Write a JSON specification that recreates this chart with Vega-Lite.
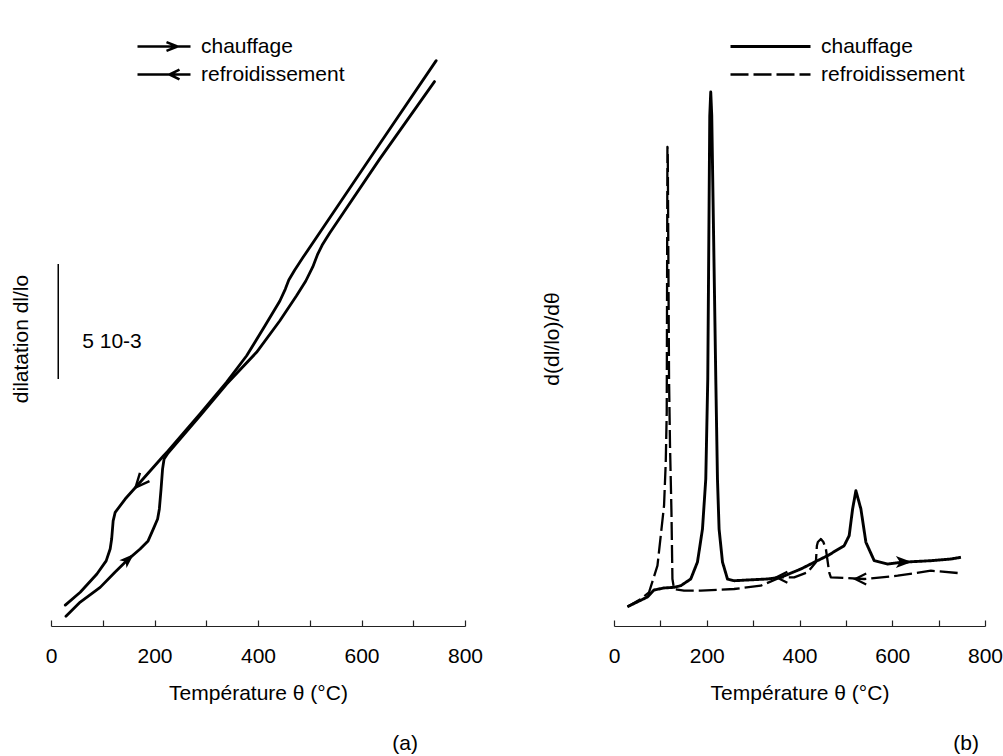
{
  "$schema": "https://vega.github.io/schema/vega-lite/v6.json",
  "background": "white",
  "padding": {"left": 10, "top": 36, "right": 0, "bottom": 0},
  "config": {
    "view": {"stroke": null},
    "font": "Liberation Sans",
    "axisX": {
      "domainColor": "#222", "domainWidth": 1.2, "tickColor": "#222", "tickWidth": 1.2, "tickSize": -6,
      "labelFontSize": 21, "labelColor": "black", "labelPadding": 25, "labelFlush": false, "labelOverlap": false,
      "titleFontSize": 21, "titleFontWeight": "normal", "titleColor": "black", "titlePadding": 16, "grid": false
    },
    "axisY": {
      "labels": false, "ticks": false, "domain": false, "grid": false,
      "titleFontSize": 21, "titleFontWeight": "normal", "titleColor": "black"
    },
    "legend": {"labelFontSize": 21, "labelColor": "black", "labelFont": "Liberation Sans", "title": null}
  },
  "datasets": {
    "dilat": [
      {"cycle": "chauffage", "i": 1, "T": 28.9, "dl": 0.42},
      {"cycle": "chauffage", "i": 2, "T": 56.5, "dl": 1.04},
      {"cycle": "chauffage", "i": 3, "T": 95, "dl": 1.68},
      {"cycle": "chauffage", "i": 4, "T": 124, "dl": 2.35},
      {"cycle": "chauffage", "i": 5, "T": 149.6, "dl": 2.91},
      {"cycle": "chauffage", "i": 6, "T": 172.2, "dl": 3.35},
      {"cycle": "chauffage", "i": 7, "T": 187.6, "dl": 3.7},
      {"cycle": "chauffage", "i": 8, "T": 197.8, "dl": 4.22},
      {"cycle": "chauffage", "i": 9, "T": 206, "dl": 4.65},
      {"cycle": "chauffage", "i": 10, "T": 209.4, "dl": 5.09},
      {"cycle": "chauffage", "i": 11, "T": 212.7, "dl": 5.96},
      {"cycle": "chauffage", "i": 12, "T": 215.6, "dl": 6.83},
      {"cycle": "chauffage", "i": 13, "T": 218.5, "dl": 7.26},
      {"cycle": "chauffage", "i": 14, "T": 226.2, "dl": 7.52},
      {"cycle": "chauffage", "i": 15, "T": 287.9, "dl": 9.14},
      {"cycle": "chauffage", "i": 16, "T": 339.4, "dl": 10.52},
      {"cycle": "chauffage", "i": 17, "T": 397.2, "dl": 11.9},
      {"cycle": "chauffage", "i": 18, "T": 442.2, "dl": 13.27},
      {"cycle": "chauffage", "i": 19, "T": 474.4, "dl": 14.36},
      {"cycle": "chauffage", "i": 20, "T": 492.3, "dl": 15.0},
      {"cycle": "chauffage", "i": 21, "T": 505.8, "dl": 15.61},
      {"cycle": "chauffage", "i": 22, "T": 515.4, "dl": 16.17},
      {"cycle": "chauffage", "i": 23, "T": 525, "dl": 16.6},
      {"cycle": "chauffage", "i": 24, "T": 538.6, "dl": 17.09},
      {"cycle": "chauffage", "i": 25, "T": 635, "dl": 20.3},
      {"cycle": "chauffage", "i": 26, "T": 741, "dl": 23.67},
      {"cycle": "refroidissement", "i": 1, "T": 744.3, "dl": 24.58},
      {"cycle": "refroidissement", "i": 2, "T": 635, "dl": 20.96},
      {"cycle": "refroidissement", "i": 3, "T": 558, "dl": 18.39},
      {"cycle": "refroidissement", "i": 4, "T": 487.1, "dl": 16.03},
      {"cycle": "refroidissement", "i": 5, "T": 471, "dl": 15.48},
      {"cycle": "refroidissement", "i": 6, "T": 459.5, "dl": 15.04},
      {"cycle": "refroidissement", "i": 7, "T": 452.8, "dl": 14.65},
      {"cycle": "refroidissement", "i": 8, "T": 442.2, "dl": 14.13},
      {"cycle": "refroidissement", "i": 9, "T": 413.2, "dl": 13.04},
      {"cycle": "refroidissement", "i": 10, "T": 378, "dl": 11.75},
      {"cycle": "refroidissement", "i": 11, "T": 339.4, "dl": 10.6},
      {"cycle": "refroidissement", "i": 12, "T": 287.9, "dl": 9.22},
      {"cycle": "refroidissement", "i": 13, "T": 226.2, "dl": 7.61},
      {"cycle": "refroidissement", "i": 14, "T": 217.1, "dl": 7.39},
      {"cycle": "refroidissement", "i": 15, "T": 172.2, "dl": 6.25},
      {"cycle": "refroidissement", "i": 16, "T": 143.3, "dl": 5.52},
      {"cycle": "refroidissement", "i": 17, "T": 124, "dl": 4.94},
      {"cycle": "refroidissement", "i": 18, "T": 120.1, "dl": 4.57},
      {"cycle": "refroidissement", "i": 19, "T": 117.2, "dl": 3.78},
      {"cycle": "refroidissement", "i": 20, "T": 114.3, "dl": 3.35},
      {"cycle": "refroidissement", "i": 21, "T": 106.6, "dl": 2.83},
      {"cycle": "refroidissement", "i": 22, "T": 88.7, "dl": 2.26},
      {"cycle": "refroidissement", "i": 23, "T": 56.5, "dl": 1.47},
      {"cycle": "refroidissement", "i": 24, "T": 27.6, "dl": 0.91}
    ],
    "arrows_a": [
      {"cycle": "chauffage", "T": 149.6, "dl": 2.91},
      {"cycle": "refroidissement", "T": 172.2, "dl": 6.25}
    ],
    "scalebar": [
      {"T": 14, "lo": 10.74, "hi": 15.74, "label": "5 10-3"}
    ],
    "deriv": [
      {"cycle": "chauffage", "i": 1, "T": 29, "d": 19.3},
      {"cycle": "chauffage", "i": 2, "T": 72, "d": 29},
      {"cycle": "chauffage", "i": 3, "T": 86.3, "d": 36},
      {"cycle": "chauffage", "i": 4, "T": 107.3, "d": 38},
      {"cycle": "chauffage", "i": 5, "T": 129.5, "d": 38.7},
      {"cycle": "chauffage", "i": 6, "T": 144, "d": 40.3},
      {"cycle": "chauffage", "i": 7, "T": 165.5, "d": 47},
      {"cycle": "chauffage", "i": 8, "T": 180, "d": 64},
      {"cycle": "chauffage", "i": 9, "T": 190.8, "d": 97},
      {"cycle": "chauffage", "i": 10, "T": 197.9, "d": 147},
      {"cycle": "chauffage", "i": 11, "T": 202.2, "d": 247},
      {"cycle": "chauffage", "i": 12, "T": 206.5, "d": 510},
      {"cycle": "chauffage", "i": 13, "T": 208.6, "d": 534},
      {"cycle": "chauffage", "i": 14, "T": 210.8, "d": 510},
      {"cycle": "chauffage", "i": 15, "T": 219.5, "d": 247},
      {"cycle": "chauffage", "i": 16, "T": 223.1, "d": 147},
      {"cycle": "chauffage", "i": 17, "T": 226.6, "d": 97},
      {"cycle": "chauffage", "i": 18, "T": 233.9, "d": 64},
      {"cycle": "chauffage", "i": 19, "T": 244.7, "d": 47},
      {"cycle": "chauffage", "i": 20, "T": 259, "d": 45.3},
      {"cycle": "chauffage", "i": 21, "T": 331, "d": 47},
      {"cycle": "chauffage", "i": 22, "T": 359.7, "d": 48.7},
      {"cycle": "chauffage", "i": 23, "T": 402.9, "d": 57},
      {"cycle": "chauffage", "i": 24, "T": 431.6, "d": 63.7},
      {"cycle": "chauffage", "i": 25, "T": 460.5, "d": 70.3},
      {"cycle": "chauffage", "i": 26, "T": 496.3, "d": 80.3},
      {"cycle": "chauffage", "i": 27, "T": 507.1, "d": 90.3},
      {"cycle": "chauffage", "i": 28, "T": 514.5, "d": 117},
      {"cycle": "chauffage", "i": 29, "T": 521.6, "d": 135.3},
      {"cycle": "chauffage", "i": 30, "T": 532.4, "d": 117},
      {"cycle": "chauffage", "i": 31, "T": 543.2, "d": 83.7},
      {"cycle": "chauffage", "i": 32, "T": 561.1, "d": 65.3},
      {"cycle": "chauffage", "i": 33, "T": 590, "d": 62},
      {"cycle": "chauffage", "i": 34, "T": 618.7, "d": 63.7},
      {"cycle": "chauffage", "i": 35, "T": 683.4, "d": 65.3},
      {"cycle": "chauffage", "i": 36, "T": 726.5, "d": 67},
      {"cycle": "chauffage", "i": 37, "T": 748.1, "d": 68.7},
      {"cycle": "refroidissement", "i": 1, "T": 741, "d": 53},
      {"cycle": "refroidissement", "i": 2, "T": 683.4, "d": 55.3},
      {"cycle": "refroidissement", "i": 3, "T": 611.6, "d": 50.3},
      {"cycle": "refroidissement", "i": 4, "T": 539.5, "d": 47},
      {"cycle": "refroidissement", "i": 5, "T": 467.6, "d": 48.7},
      {"cycle": "refroidissement", "i": 6, "T": 464, "d": 53.7},
      {"cycle": "refroidissement", "i": 7, "T": 456.9, "d": 77},
      {"cycle": "refroidissement", "i": 8, "T": 451.5, "d": 84},
      {"cycle": "refroidissement", "i": 9, "T": 446.1, "d": 87},
      {"cycle": "refroidissement", "i": 10, "T": 439.6, "d": 84},
      {"cycle": "refroidissement", "i": 11, "T": 437.5, "d": 80.3},
      {"cycle": "refroidissement", "i": 12, "T": 435.3, "d": 63.7},
      {"cycle": "refroidissement", "i": 13, "T": 417.4, "d": 53.7},
      {"cycle": "refroidissement", "i": 14, "T": 388.5, "d": 48.7},
      {"cycle": "refroidissement", "i": 15, "T": 359.7, "d": 48.7},
      {"cycle": "refroidissement", "i": 16, "T": 316.6, "d": 40.3},
      {"cycle": "refroidissement", "i": 17, "T": 259, "d": 37},
      {"cycle": "refroidissement", "i": 18, "T": 187.1, "d": 35.3},
      {"cycle": "refroidissement", "i": 19, "T": 151, "d": 35.3},
      {"cycle": "refroidissement", "i": 20, "T": 129.5, "d": 37},
      {"cycle": "refroidissement", "i": 21, "T": 126, "d": 47},
      {"cycle": "refroidissement", "i": 22, "T": 123.9, "d": 114},
      {"cycle": "refroidissement", "i": 23, "T": 120.8, "d": 180.3},
      {"cycle": "refroidissement", "i": 24, "T": 118.7, "d": 247},
      {"cycle": "refroidissement", "i": 25, "T": 115.9, "d": 477},
      {"cycle": "refroidissement", "i": 26, "T": 115.2, "d": 479},
      {"cycle": "refroidissement", "i": 27, "T": 113.7, "d": 213.7},
      {"cycle": "refroidissement", "i": 28, "T": 111.6, "d": 163.7},
      {"cycle": "refroidissement", "i": 29, "T": 107.9, "d": 120.3},
      {"cycle": "refroidissement", "i": 30, "T": 93.7, "d": 60.3},
      {"cycle": "refroidissement", "i": 31, "T": 75.5, "d": 33.7},
      {"cycle": "refroidissement", "i": 32, "T": 57.6, "d": 27},
      {"cycle": "refroidissement", "i": 33, "T": 29, "d": 19.3}
    ],
    "arrows_b": [
      {"cycle": "chauffage", "T": 625, "d": 64},
      {"cycle": "refroidissement", "T": 532, "d": 47},
      {"cycle": "refroidissement", "T": 362, "d": 48.7}
    ]
  },
  "resolve": {
    "scale": {"x": "independent", "y": "independent", "color": "independent", "strokeDash": "independent", "strokeWidth": "independent"},
    "legend": {"color": "independent"}
  },
  "spacing": 58,
  "hconcat": [
    {
      "width": 414,
      "height": 575,
      "title": {"text": "(a)", "orient": "bottom", "anchor": "end", "frame": "group", "fontSize": 21, "fontWeight": "normal", "color": "black", "font": "Liberation Sans", "dx": -47, "offset": 30},
      "layer": [
        {
          "data": {"name": "dilat"},
          "mark": {"type": "line", "strokeWidth": 2.8, "strokeJoin": "round", "strokeCap": "round"},
          "encoding": {
            "x": {"field": "T", "type": "quantitative", "scale": {"domain": [0, 800], "nice": false},
              "axis": {"title": "Température θ (°C)", "values": [0, 50, 100, 150, 200, 250, 300, 350, 400, 450, 500, 550, 600, 650, 700, 750, 800],
                "labelExpr": "datum.value % 200 === 0 ? datum.label : ''"}},
            "y": {"field": "dl", "type": "quantitative", "scale": {"domain": [0, 25], "nice": false},
              "axis": {"title": "dilatation dl/lo", "titlePadding": 20}},
            "color": {"field": "cycle", "type": "nominal",
              "scale": {"domain": ["chauffage", "refroidissement"], "range": ["black", "black"]},
              "legend": {"orient": "none", "legendX": 126, "legendY": -15, "symbolType": "stroke", "symbolSize": 64,
                "symbolStrokeWidth": 2.6, "labelOffset": 3, "rowPadding": 6,
                "encode": {"symbols": {"update": {"shape": {"signal": "datum.value === 'chauffage' ? 'M-12.5,0H0.75M-5.25,-1.1L-2.5,0L-5.25,1.1' : 'M-12.5,0H0.75M-2,-1.2L-4.5,0L-2,1.2'"}}}}}},
            "order": {"field": "i", "type": "quantitative"}
          }
        },
        {
          "data": {"name": "arrows_a"},
          "transform": [{"filter": "datum.cycle === 'chauffage'"}],
          "mark": {"type": "point", "shape": "M1,0L-1,-0.7L-0.5,0L-1,0.7Z", "angle": -43, "filled": true, "size": 225, "color": "black", "opacity": 1},
          "encoding": {"x": {"field": "T", "type": "quantitative"}, "y": {"field": "dl", "type": "quantitative"}}
        },
        {
          "data": {"name": "arrows_a"},
          "transform": [{"filter": "datum.cycle === 'refroidissement'"}],
          "mark": {"type": "point", "shape": "M-1,-0.9L1,0L-1,0.9", "angle": 131, "filled": false, "size": 196, "color": "black", "strokeWidth": 2.4, "opacity": 1},
          "encoding": {"x": {"field": "T", "type": "quantitative"}, "y": {"field": "dl", "type": "quantitative"}}
        },
        {
          "data": {"name": "scalebar"},
          "mark": {"type": "rule", "strokeWidth": 1.5, "color": "black"},
          "encoding": {"x": {"field": "T", "type": "quantitative"}, "y": {"field": "lo", "type": "quantitative"}, "y2": {"field": "hi"}}
        },
        {
          "data": {"name": "scalebar"},
          "mark": {"type": "text", "align": "left", "baseline": "middle", "dx": 24, "dy": -37, "fontSize": 21, "font": "Liberation Sans", "color": "black"},
          "encoding": {"x": {"field": "T", "type": "quantitative"}, "y": {"field": "lo", "type": "quantitative"}, "text": {"field": "label"}}
        }
      ]
    },
    {
      "width": 371,
      "height": 575,
      "title": {"text": "(b)", "orient": "bottom", "anchor": "end", "frame": "group", "fontSize": 21, "fontWeight": "normal", "color": "black", "font": "Liberation Sans", "dx": -6, "offset": 30},
      "layer": [
        {
          "data": {"name": "deriv"},
          "mark": {"type": "line", "strokeJoin": "round"},
          "encoding": {
            "x": {"field": "T", "type": "quantitative", "scale": {"domain": [0, 800], "nice": false},
              "axis": {"title": "Température θ (°C)", "values": [0, 50, 100, 150, 200, 250, 300, 350, 400, 450, 500, 550, 600, 650, 700, 750, 800],
                "labelExpr": "datum.value % 200 === 0 ? datum.label : ''"}},
            "y": {"field": "d", "type": "quantitative", "scale": {"domain": [0, 575], "nice": false},
              "axis": {"title": "d(dl/lo)/dθ", "titlePadding": 52}},
            "color": {"field": "cycle", "type": "nominal",
              "scale": {"domain": ["chauffage", "refroidissement"], "range": ["black", "black"]},
              "legend": {"orient": "none", "legendX": 184, "legendY": -15, "symbolType": "stroke", "symbolSize": 64,
                "symbolStrokeWidth": 2.6, "labelOffset": 2, "rowPadding": 6,
                "encode": {"symbols": {"update": {"shape": {"value": "M-19.5,0H0.5"},
                  "strokeDash": {"signal": "datum.value === 'refroidissement' ? [17, 11] : [1, 0]"}}}}}},
            "strokeDash": {"field": "cycle", "type": "nominal",
              "scale": {"domain": ["chauffage", "refroidissement"], "range": [[1, 0], [18, 5]]}, "legend": null},
            "strokeWidth": {"field": "cycle", "type": "nominal",
              "scale": {"domain": ["chauffage", "refroidissement"], "range": [2.9, 2.3]}, "legend": null},
            "order": {"field": "i", "type": "quantitative"}
          }
        },
        {
          "data": {"name": "arrows_b"},
          "transform": [{"filter": "datum.cycle === 'chauffage'"}],
          "mark": {"type": "point", "shape": "M1,0L-1,-0.75L-0.5,0L-1,0.75Z", "angle": 0, "filled": true, "size": 256, "color": "black", "opacity": 1},
          "encoding": {"x": {"field": "T", "type": "quantitative"}, "y": {"field": "d", "type": "quantitative"}}
        },
        {
          "data": {"name": "arrows_b"},
          "transform": [{"filter": "datum.cycle === 'refroidissement'"}],
          "mark": {"type": "point", "shape": "M-1,-1L1,0L-1,1", "angle": 180, "filled": false, "size": 121, "color": "black", "strokeWidth": 2.2, "opacity": 1},
          "encoding": {"x": {"field": "T", "type": "quantitative"}, "y": {"field": "d", "type": "quantitative"}}
        }
      ]
    }
  ]
}
